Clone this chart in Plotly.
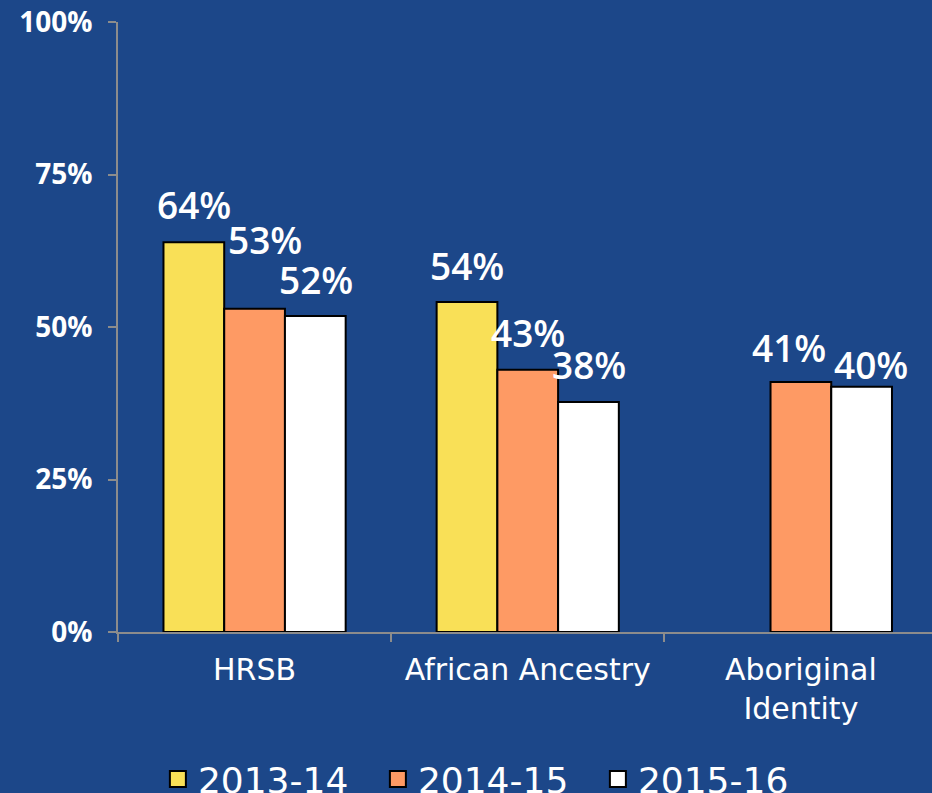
import plotly.graph_objects as go

# ---------------- Datos ----------------
categorias = ["HRSB", "African Ancestry", "Aboriginal<br>Identity"]
anios = ["2013-14", "2014-15", "2015-16"]
val_2013 = [63.9, 54.1, None]
val_2014 = [53.0, 43.0, 41.0]
val_2015 = [51.8, 37.7, 40.2]
y_ticks = [0, 25, 50, 75, 100]
y_tick_text = ["0%", "25%", "50%", "75%", "100%"]

# ---------------- Estilo ---------------
FONDO = "#1C4789"
COLORES = ["#F9E057", "#FE9A64", "#FFFFFF"]
FUENTE = "Open Sans"
FUENTE_REG = "DejaVu Sans"
# desplazamiento (px) de cada barra respecto al centro del grupo
DESPL_BARRA = [-60.7, 0, 60.7]
# ajustes manuales de las etiquetas (como en el original)
AJUSTE_X = [[0, 0, None], [10, 0, -12], [1, 1, 9]]
AJUSTE_Y = [[10, 9, None], [42, 10, 7], [9, 10, -5]]

fig = go.Figure()
series = [val_2013, val_2014, val_2015]
for i, (nombre, vals, color) in enumerate(zip(anios, series, COLORES)):
    fig.add_trace(go.Bar(
        x=categorias, y=vals, name=nombre, showlegend=False,
        marker=dict(color=color, line=dict(color="black", width=2)),
        hoverinfo="x+y",
    ))
    # entrada de leyenda con cuadrado más grande
    fig.add_trace(go.Scatter(
        x=[None], y=[None], mode="markers", name=nombre,
        marker=dict(symbol="square", size=16, color=color, line=dict(color="black", width=2)),
    ))
    # etiquetas de datos
    for j, v in enumerate(vals):
        if v is None:
            continue
        fig.add_annotation(
            x=j, y=v, xref="x", yref="y", text=f"{v:.0f}%", showarrow=False,
            xanchor="center", yanchor="bottom",
            xshift=DESPL_BARRA[i] + AJUSTE_X[i][j], yshift=AJUSTE_Y[i][j],
            font=dict(family=FUENTE, size=37, color="white", weight=600),
        )

fig.update_layout(
    width=932, height=793,
    paper_bgcolor=FONDO, plot_bgcolor=FONDO,
    margin=dict(l=118, r=0, t=22, b=161, autoexpand=False),
    barmode="group", bargap=0.333, bargroupgap=0,
    font=dict(family=FUENTE_REG, color="white"),
    legend=dict(
        orientation="h", x=0.049, xanchor="left", y=-0.192, yanchor="top",
        font=dict(family=FUENTE_REG, size=36, color="white"),
        entrywidth=175, entrywidthmode="pixels",
        bgcolor="rgba(0,0,0,0)",
    ),
)
fig.update_xaxes(
    range=[-0.5, 2.48], showline=True, linecolor="#8C8C8C", linewidth=2,
    ticks="outside", tickson="boundaries", ticklen=8, tickcolor="#8C8C8C", tickwidth=2,
    ticklabelstandoff=10,
    tickfont=dict(family=FUENTE_REG, size=30, color="white"), showgrid=False,
)
fig.update_yaxes(
    range=[0, 100], tickvals=y_ticks, ticktext=y_tick_text,
    showline=True, linecolor="#8C8C8C", linewidth=2,
    ticks="outside", ticklen=8, tickcolor="#8C8C8C", tickwidth=2,
    ticklabelstandoff=10,
    tickfont=dict(family=FUENTE, size=28, color="white", weight="bold"),
    showgrid=False, zeroline=False,
)

fig.write_html("out.html", config={"displayModeBar": False},
               post_script="document.body.style.margin='0';")
